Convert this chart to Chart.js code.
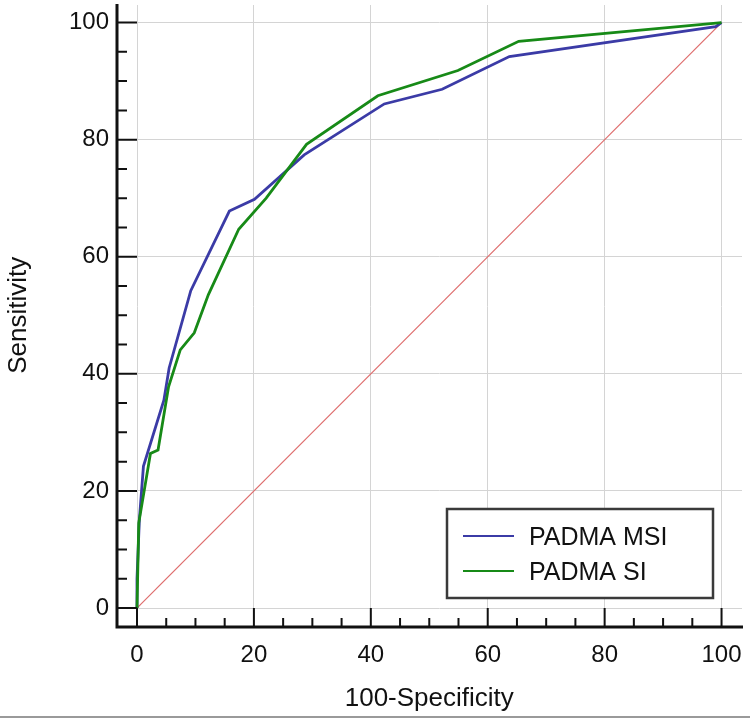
<!DOCTYPE html>
<html>
<head>
<meta charset="utf-8">
<title>ROC curves</title>
<script src="https://cdn.jsdelivr.net/npm/chart.js@4.4.1/dist/chart.umd.min.js"></script>
<style>
    html, body { margin: 0; padding: 0; background: #ffffff; }
    #wrap { width: 750px; height: 719px; }
</style>
</head>
<body>
<div id="wrap"><canvas id="rocChart" width="750" height="719"></canvas></div>
<script>
// ROC data (100-Specificity vs Sensitivity)
const msiX = [0, 0, 0.4, 1.1, 4.6, 5.5, 9.2, 15.8, 20.1, 28.6, 42.3, 52.2, 63.7, 99.0, 100];
const msiY = [0, 5, 15, 24.2, 35.5, 41, 54.2, 67.8, 69.8, 77.4, 86.1, 88.6, 94.2, 99.3, 100];

const siX = [0, 0.3, 2.3, 3.6, 5.4, 7.4, 9.8, 12.2, 17.4, 22.1, 29.0, 41.2, 54.9, 65.3, 100];
const siY = [0, 14.5, 26.4, 27.0, 37.8, 44.1, 47.0, 53.5, 64.7, 70.0, 79.2, 87.5, 91.8, 96.8, 100];

const diagX = [0, 100];
const diagY = [0, 100];

const xTicks = [0, 20, 40, 60, 80, 100];
const yTicks = [0, 20, 40, 60, 80, 100];

const xTitle = '100-Specificity';
const yTitle = 'Sensitivity';
const seriesNames = ['PADMA MSI', 'PADMA SI'];

const FONT = '"Liberation Sans", Arial, sans-serif';

function toPoints(xs, ys) {
    return xs.map((v, i) => ({ x: v, y: ys[i] }));
}

// Draws the offset axes with inward ticks, axis titles, the boxed legend
const rocDecor = {
    id: 'rocDecor',
    afterDraw(chart) {
        const { ctx, scales: { x, y } } = chart;
        const x0 = x.getPixelForValue(0);
        const y0 = y.getPixelForValue(0);
        const axisLeft = x0 - 20;
        const axisBottom = y0 + 19;

        ctx.save();
        ctx.strokeStyle = '#111111';
        ctx.lineCap = 'butt';

        // axis lines
        ctx.lineWidth = 3;
        ctx.beginPath();
        ctx.moveTo(axisLeft, chart.chartArea.top - 1);
        ctx.lineTo(axisLeft, axisBottom + 1.5);
        ctx.moveTo(axisLeft - 1.5, axisBottom);
        ctx.lineTo(chart.chartArea.right + 1, axisBottom);
        ctx.stroke();

        // ticks pointing into the plot
        ctx.lineWidth = 2;
        ctx.beginPath();
        for (let v = 0; v <= 100; v += 5) {
            const major = v % 20 === 0;
            const py = y.getPixelForValue(v);
            ctx.moveTo(axisLeft, py);
            ctx.lineTo(axisLeft + (major ? 20 : 10), py);
            const px = x.getPixelForValue(v);
            ctx.moveTo(px, axisBottom);
            ctx.lineTo(px, axisBottom - (major ? 19 : 9));
        }
        ctx.stroke();

        // axis titles, centred on the 0-100 range
        ctx.fillStyle = '#111111';
        ctx.font = '26px ' + FONT;
        ctx.textAlign = 'center';
        ctx.textBaseline = 'alphabetic';
        ctx.fillText(xTitle, x.getPixelForValue(50), 706);

        ctx.save();
        ctx.translate(26, y.getPixelForValue(50));
        ctx.rotate(-Math.PI / 2);
        ctx.fillText(yTitle, 0, 0);
        ctx.restore();

        // legend box
        const box = { left: 447, top: 509, right: 713, bottom: 598 };
        ctx.fillStyle = '#ffffff';
        ctx.fillRect(box.left, box.top, box.right - box.left, box.bottom - box.top);
        ctx.strokeStyle = '#3a3a3a';
        ctx.lineWidth = 2.5;
        ctx.strokeRect(box.left, box.top, box.right - box.left, box.bottom - box.top);

        const items = chart.data.datasets.filter(ds => ds.inLegend);
        ctx.font = '25px ' + FONT;
        ctx.textAlign = 'left';
        items.forEach((ds, i) => {
            const rowY = 536 + i * 35;
            ctx.strokeStyle = ds.borderColor;
            ctx.lineWidth = 2;
            ctx.beginPath();
            ctx.moveTo(463, rowY);
            ctx.lineTo(514, rowY);
            ctx.stroke();
            ctx.fillStyle = '#111111';
            ctx.fillText(ds.label, 529, rowY + 9);
        });

        // thin grey rule at the bottom of the picture
        ctx.strokeStyle = '#9a9a9a';
        ctx.lineWidth = 2;
        ctx.beginPath();
        ctx.moveTo(0, 717);
        ctx.lineTo(chart.width, 717);
        ctx.stroke();

        ctx.restore();
    }
};

document.addEventListener('DOMContentLoaded', function () {
    const ctx = document.getElementById('rocChart').getContext('2d');

    const rocChart = new Chart(ctx, {
        type: 'line',
        data: {
            datasets: [{
                label: 'reference',
                data: toPoints(diagX, diagY),
                borderColor: 'rgb(222, 108, 108)',
                borderWidth: 1.2,
                pointRadius: 0,
                inLegend: false,
                order: 3
            }, {
                label: seriesNames[0],
                data: toPoints(msiX, msiY),
                borderColor: '#3b3ba6',
                borderWidth: 2.8,
                pointRadius: 0,
                inLegend: true,
                clip: false,
                order: 2
            }, {
                label: seriesNames[1],
                data: toPoints(siX, siY),
                borderColor: '#178a17',
                borderWidth: 2.8,
                pointRadius: 0,
                inLegend: true,
                clip: false,
                order: 1
            }]
        },
        options: {
            responsive: false,
            animation: false,
            devicePixelRatio: 1,
            layout: {
                padding: { top: 5, right: 8, left: 0, bottom: 0 }
            },
            elements: {
                line: { tension: 0 }
            },
            scales: {
                x: {
                    type: 'linear',
                    min: 0,
                    max: 103.5,
                    afterBuildTicks: function (scale) {
                        scale.ticks = xTicks.map(v => ({ value: v }));
                    },
                    afterFit: function (scale) {
                        scale.height = 111;
                        scale.paddingLeft = 0;
                        scale.paddingRight = 0;
                    },
                    grid: { color: '#d4d4d4', lineWidth: 1, drawTicks: false },
                    border: { display: false },
                    ticks: {
                        padding: 33,
                        color: '#111111',
                        font: { family: FONT, size: 24 },
                        maxRotation: 0
                    }
                },
                y: {
                    min: 0,
                    max: 103,
                    afterBuildTicks: function (scale) {
                        scale.ticks = yTicks.map(v => ({ value: v }));
                    },
                    afterFit: function (scale) {
                        scale.width = 137;
                        scale.paddingTop = 0;
                        scale.paddingBottom = 0;
                    },
                    grid: { color: '#d4d4d4', lineWidth: 1, drawTicks: false },
                    border: { display: false },
                    ticks: {
                        padding: 28,
                        color: '#111111',
                        font: { family: FONT, size: 24 }
                    }
                }
            },
            plugins: {
                legend: { display: false },
                tooltip: { enabled: false }
            }
        },
        plugins: [rocDecor]
    });
});
</script>
</body>
</html>
